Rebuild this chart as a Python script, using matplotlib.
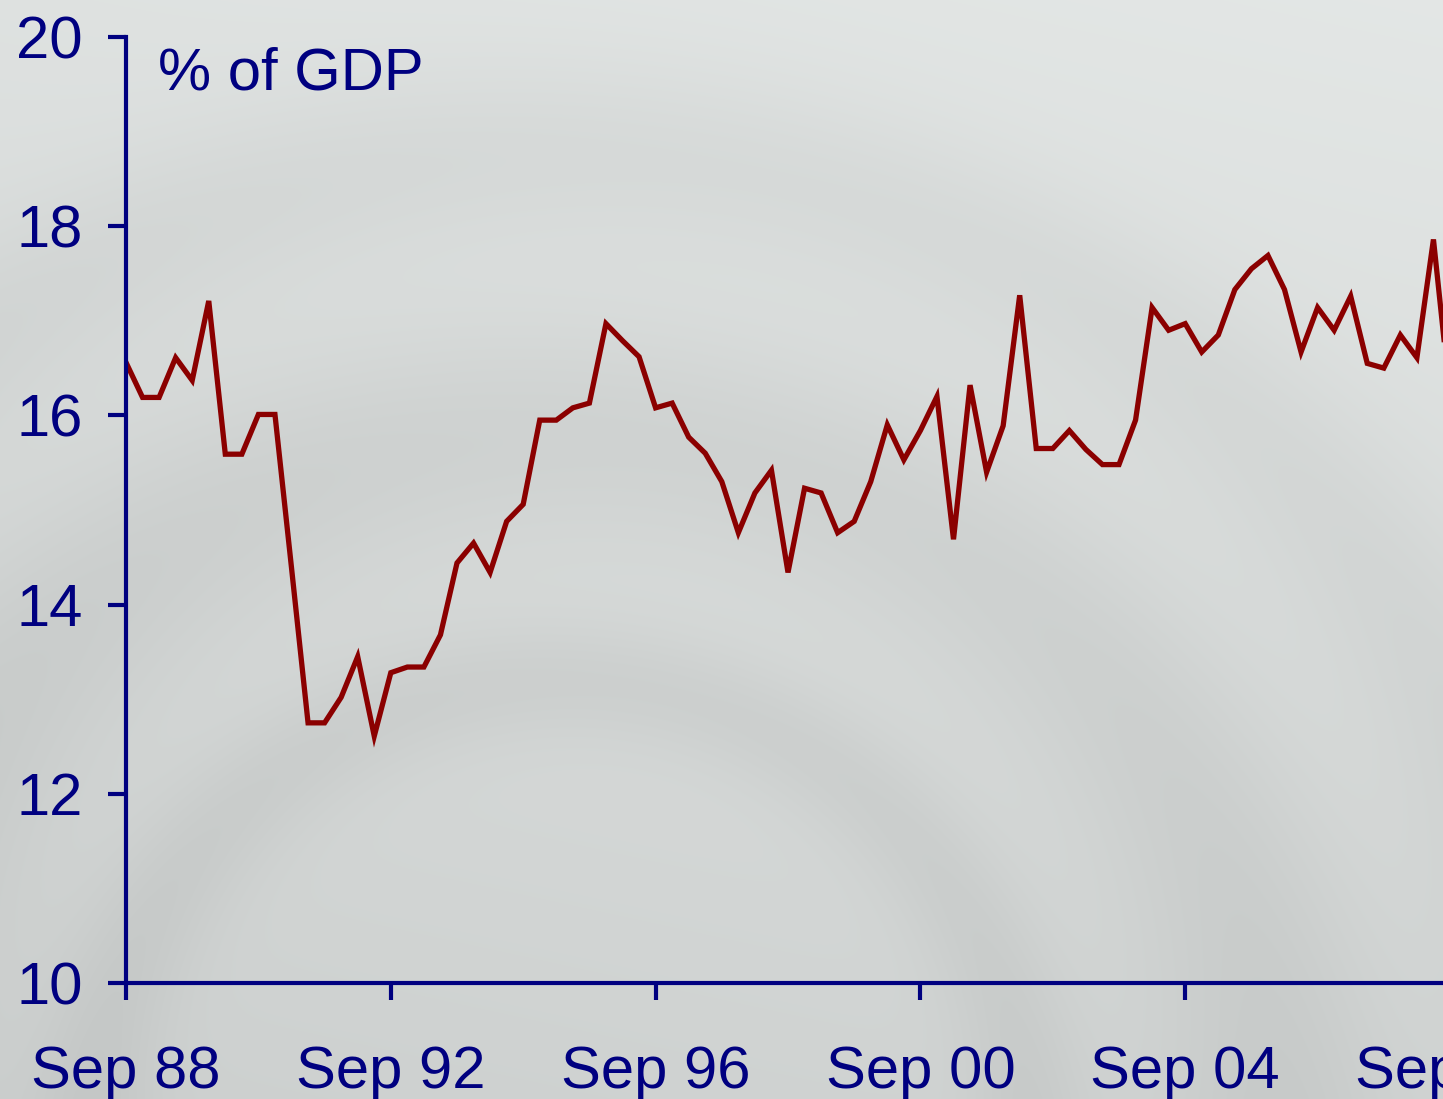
import matplotlib
matplotlib.use("Agg")
import matplotlib.pyplot as plt
import matplotlib.transforms as mtransforms
import numpy as np

# Quarterly series, % of GDP, starting Sep 1988
values = [
    16.56, 16.19, 16.19, 16.61, 16.37, 17.21, 15.59, 15.59, 16.01, 16.01,
    14.39, 12.75, 12.75, 13.02, 13.45, 12.61, 13.28, 13.34, 13.34, 13.68,
    14.44, 14.65, 14.34, 14.88, 15.06, 15.95, 15.95, 16.08, 16.13, 16.97,
    16.79, 16.62, 16.08, 16.13, 15.77, 15.60, 15.30, 14.76, 15.18, 15.42,
    14.34, 15.23, 15.18, 14.76, 14.88, 15.30, 15.90, 15.53, 15.84, 16.20,
    14.69, 16.32, 15.40, 15.89, 17.27, 15.65, 15.65, 15.84, 15.64, 15.48,
    15.48, 15.95, 17.14, 16.90, 16.97, 16.67, 16.85, 17.33, 17.55, 17.69,
    17.33, 16.67, 17.14, 16.90, 17.26, 16.55, 16.50, 16.85, 16.61, 17.86,
    16.20,
]
tick_pos = [0, 16, 32, 48, 64]
tick_labels = ["Sep 88", "Sep 92", "Sep 96", "Sep 00", "Sep 04"]
extra_pos = 80
extra_label = "Sep 08"
yticks = [10, 12, 14, 16, 18, 20]

NAVY = "#000080"
RED = "#8B0000"
XPAD = 33
XLEN = 12

plt.rcParams["font.family"] = ["Liberation Sans", "DejaVu Sans"]

fig = plt.figure(figsize=(14.43, 10.99), dpi=100)

# background: soft grey gradient with faint rings
bg = fig.add_axes([0, 0, 1, 1], zorder=-10)
yy, xx = np.mgrid[0:1099, 0:1443]
r = np.hypot(xx - 560, yy - 1150)
base = 0.905 - 0.07 * (yy / 1099) - 0.02 * (1 - xx / 1443)
rings = (0.04 * np.exp(-((r - 720) / 110) ** 2)
         + 0.035 * np.exp(-((r - 470) / 60) ** 2)
         + 0.03 * np.exp(-((r - 1000) / 90) ** 2))
img = np.clip(base - rings, 0, 1)
rgb = np.dstack([img * 0.985, img, img * 0.995])
bg.imshow(rgb, aspect="auto", extent=[0, 1, 0, 1])
bg.axis("off")

ax = fig.add_axes([126 / 1443, 1 - 983 / 1099, 1 - 126 / 1443, (983 - 37) / 1099])
ax.patch.set_alpha(0)
x = np.arange(len(values))
ax.plot(x, values, color=RED, lw=3.8, solid_joinstyle="miter")

ax.set_xlim(0, (1443 - 126) / 16.55)
ax.set_ylim(10, 20)
ax.set_yticks(yticks)
ax.set_xticks(tick_pos)
ax.set_xticklabels(tick_labels)

for s in ["top", "right"]:
    ax.spines[s].set_visible(False)
for s in ["left", "bottom"]:
    ax.spines[s].set_color(NAVY)
    ax.spines[s].set_linewidth(3)

ax.tick_params(axis="y", direction="out", length=13, width=3, color=NAVY,
               labelcolor=NAVY, labelsize=43, pad=18)
ax.tick_params(axis="x", direction="out", length=XLEN, width=3, color=NAVY,
               labelcolor=NAVY, labelsize=43, pad=XPAD)

# label of the Sep 08 tick, cut by the figure edge as in the source slide
trans = mtransforms.offset_copy(ax.get_xaxis_transform(), fig=fig,
                                y=-(XLEN + XPAD), units="points")
ax.text(extra_pos, 0, extra_label, transform=trans, ha="center", va="top",
        color=NAVY, fontsize=43, clip_on=False)

ax.text(0.024, 0.99, "% of GDP", transform=ax.transAxes, ha="left", va="top",
        color=NAVY, fontsize=43)

fig.savefig("out.png", dpi=100)
